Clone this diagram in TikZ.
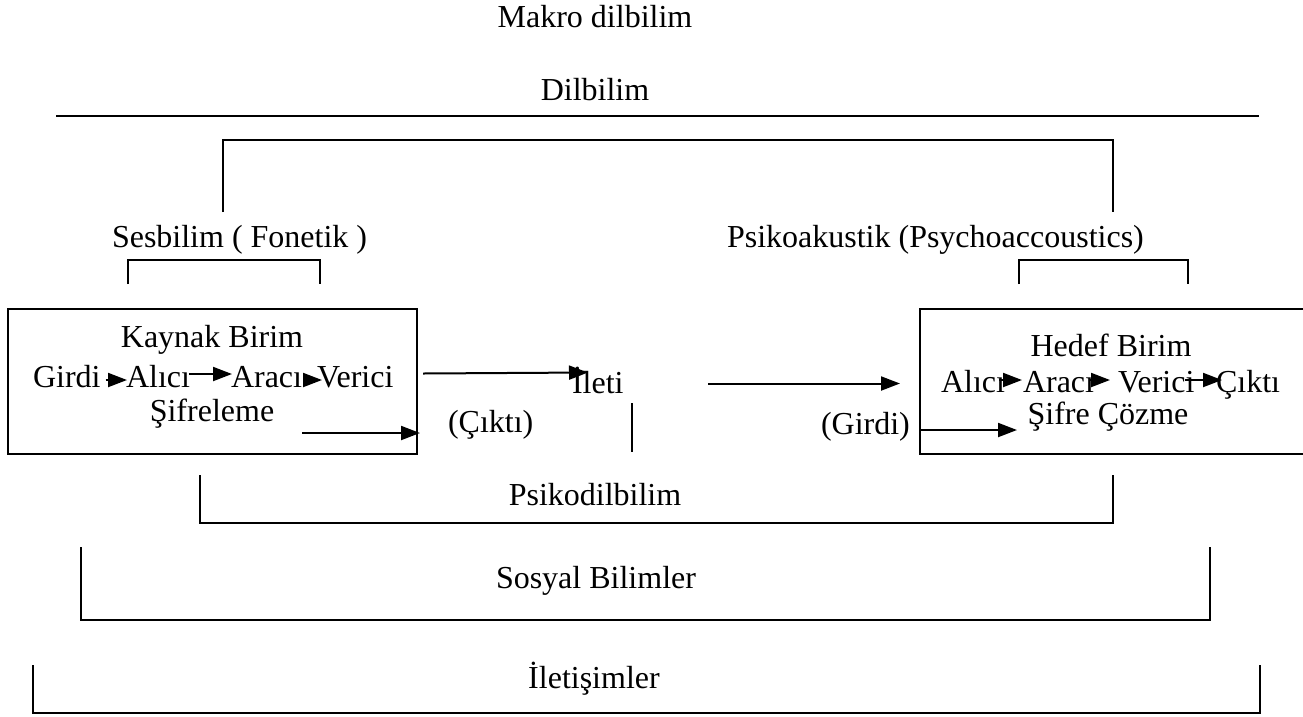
\documentclass[tikz,border=0pt]{standalone}
\usepackage{fontspec}
\setmainfont{Liberation Serif}
\usetikzlibrary{arrows.meta,calc}
\begin{document}
\begin{tikzpicture}[x=1pt,y=-1pt,line width=2pt,
  txt/.style={inner sep=0pt,anchor=base,font=\fontsize{32}{38}\selectfont},
  wtxt/.style={inner sep=0pt,anchor=base west,font=\fontsize{32}{38}\selectfont},
  arr/.style={-{Triangle[length=19pt,width=14pt]}},
  unitbox/.style={draw,line width=2pt,inner sep=0pt,anchor=north west}]
\useasboundingbox (0,0) rectangle (1303,716);
% top
\node[txt] (makro) at (595,27) {Makro dilbilim};
\node[txt] (dil) at (595,100) {Dilbilim};
\coordinate (hl) at (56,116);
\coordinate (hr) at (1259,116);
\draw (hl) -- (hr);
\draw (223,212) |- (1113,140) -- (1113,212);
\node[wtxt] (ses) at (111,247) {Sesbilim ( Fonetik )};
\node[wtxt] (pak) at (726,247) {Psikoakustik (Psychoaccoustics)};
\draw (128,284) |- (320,260) -- (320,284);
\draw (1019,284) |- (1188,260) -- (1188,284);
% boxes
\node[unitbox,minimum width=409,minimum height=145] (kbox) at (7,308) {};
\node[unitbox,minimum width=400,minimum height=145] (hbox) at (919,308) {};
% left box text
\node[txt] (kb) at (212,347) {Kaynak Birim};
\node[wtxt] (g1) at (32,387) {Girdi};
\node[wtxt] (a1) at (125,387) {Alıcı};
\node[wtxt] (r1) at (230,387) {Aracı};
\node[wtxt] (v1) at (316,387) {Verici};
\node[txt] (sif) at (212,421) {Şifreleme};
\draw[arr] ($(g1.base east)+(4,-7)$) -- ($(a1.base west)+(2,-7)$);
\draw[arr] ($(a1.base east)+(-2,-13)$) -- ($(r1.base west)+(2,-13)$);
\draw[arr] ($(r1.base east)+(2,-7)$) -- ($(v1.base west)+(6,-7)$);
% right box text
\node[txt] (hb) at (1111,356) {Hedef Birim};
\node[wtxt] (a2) at (940,392) {Alıcı};
\node[wtxt] (r2) at (1022,392) {Aracı};
\node[wtxt] (v2) at (1117,392) {Verici};
\node[wtxt] (c2) at (1215,392) {Çıktı};
\node[txt] (sc) at (1108,424) {Şifre Çözme};
\draw[arr] ($(a2.base east)+(-7,-12)$) -- ($(r2.base west)+(0,-12)$);
\draw[arr] ($(r2.base east)+(-6,-12)$) -- ($(v2.base west)+(-7,-12)$);
\draw[arr] ($(v2.base east)+(-10,-12)$) -- ($(c2.base west)+(7,-12)$);
% middle
\node[wtxt] (ileti) at (571,393) {İleti};
\node[wtxt] (cikti) at (447,432) {(Çıktı)};
\node[wtxt] (girdi) at (820,434) {(Girdi)};
\draw[arr] ($(kbox.east)+(5,-8)$) -- ($(ileti.base west)+(17,-20.5)$);
\draw[arr] ($(hbox.west)+(-211,2)$) -- ($(hbox.west)+(-19,2)$);
\draw[arr] ($(kbox.south east)+(-116,-22)$) -- ($(kbox.south east)+(2,-22)$);
\draw[arr] ($(hbox.south west)+(1,-25)$) -- ($(hbox.south west)+(98,-25)$);
\draw (632,403) -- (632,452);
% bottom brackets
\node[txt] (psd) at (595,505) {Psikodilbilim};
\draw (200,475) |- (1113,523) -- (1113,475);
\node[txt] (sos) at (596,588) {Sosyal Bilimler};
\draw (81,547) |- (1210,620) -- (1210,547);
\node[txt] (ilt) at (594,688) {İletişimler};
\draw (33,665) |- (1260,713) -- (1260,665);
\end{tikzpicture}
\end{document}
